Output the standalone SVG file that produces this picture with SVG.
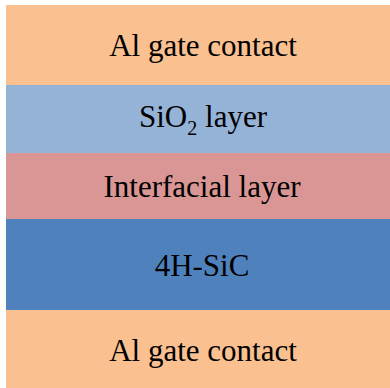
<svg xmlns="http://www.w3.org/2000/svg" width="390" height="388" viewBox="0 0 390 388">
<style>
text{font-family:"Liberation Serif","Times New Roman",serif;font-size:31px;fill:#000;text-anchor:middle}
</style>
<rect width="390" height="388" fill="#fff"/>
<g id="al-top"><rect x="6" y="5" width="384" height="80" fill="#FAC090"/><text x="203" y="56">Al gate contact</text></g>
<g id="sio2"><rect x="6" y="85" width="384" height="68" fill="#95B3D7"/><text x="203" y="127">SiO<tspan font-size="20" dy="8">2</tspan><tspan dy="-8"> layer</tspan></text></g>
<g id="interfacial"><rect x="6" y="153" width="384" height="66" fill="#D99694"/><text x="202" y="197">Interfacial layer</text></g>
<g id="sic"><rect x="6" y="219" width="384" height="91" fill="#4F81BD"/><text x="202" y="276">4H-SiC</text></g>
<g id="al-bottom"><rect x="6" y="310" width="384" height="78" fill="#FAC090"/><text x="203" y="361">Al gate contact</text></g>
</svg>
